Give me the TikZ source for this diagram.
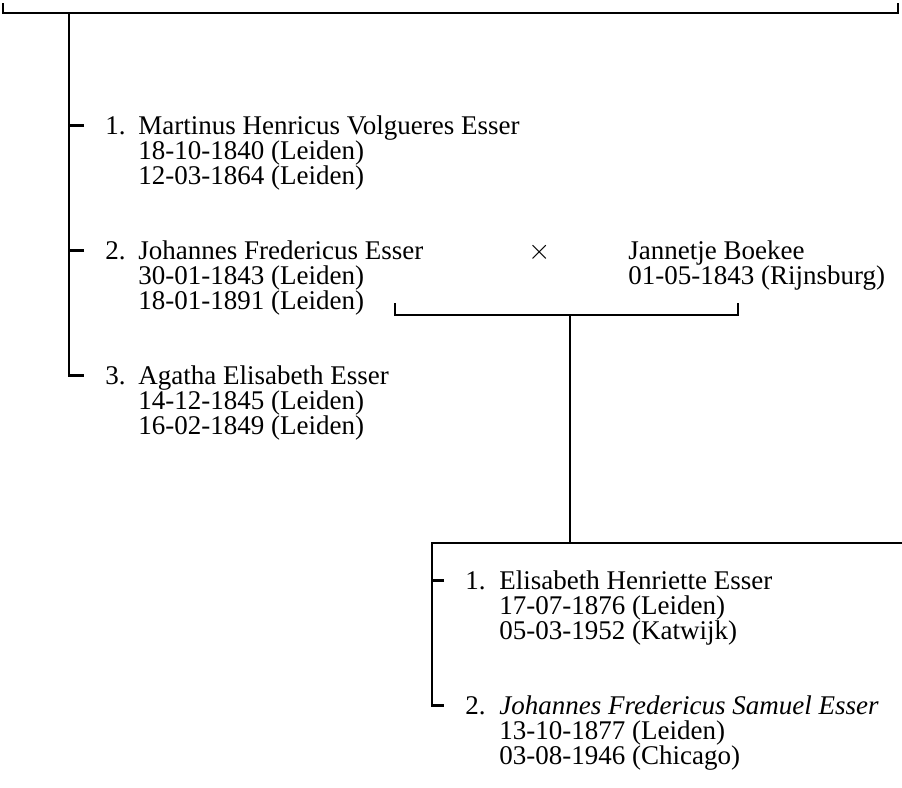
\documentclass[tikz,border=0pt]{standalone}
\usepackage{fontspec}
\setmainfont{Liberation Serif}
\usetikzlibrary{arrows,shapes}
\tikzstyle{nr}=[inner xsep=10.5pt,inner ysep=0pt,anchor=base west]
\tikzstyle{person}=[inner sep=0pt,anchor=base west,align=left]
\tikzstyle{edge} = [draw,line width=1.4pt,-]

\begin{document}
\begin{tikzpicture}[x=0.5pt,y=-0.5pt,font={\fontsize{13.5}{12.5}\selectfont}]
    \useasboundingbox (0,0) rectangle (902,788);
    % The line of the parents on top
    \coordinate (topL) at (3,3);
    \coordinate (topR) at (898,3);
    \coordinate (root) at (69,13);
    \path[edge] (topL) |- (root) -| (topR);

    % First we draw the numbers of the children
    \foreach \pos/\name/\nr in {{(84,134)/nr1/1.}, {(84,259)/nr2/2.}, {(84,384)/nr3/3.}, {(444,589)/nr4/1.}, {(444,714)/nr5/2.}}
        \node[nr] (\name) at \pos {\nr};

    % Then the names with birth and death (placed at their last line)
    \foreach \pos/\name/\txt in {{(138,184)/martinus/{Martinus Henricus Volgueres Esser\\18-10-1840 (Leiden)\\12-03-1864 (Leiden)}},
                                 {(138,309)/johannes/{Johannes Fredericus Esser\\30-01-1843 (Leiden)\\18-01-1891 (Leiden)}},
                                 {(138,434)/agatha/{Agatha Elisabeth Esser\\14-12-1845 (Leiden)\\16-02-1849 (Leiden)}},
                                 {(628,284)/jannetje/{Jannetje Boekee\\01-05-1843 (Rijnsburg)}},
                                 {(499,639)/elisabeth/{Elisabeth Henriette Esser\\17-07-1876 (Leiden)\\05-03-1952 (Katwijk)}},
                                 {(499,764)/samuel/{\textit{Johannes Fredericus Samuel Esser}\\13-10-1877 (Leiden)\\03-08-1946 (Chicago)}}}
        \node[person] (\name) at \pos {\txt};
    \node[inner sep=0pt,anchor=base] (marr) at (540,259) {$\times$};

    % Connect the children to the family line
    \path[edge] (root) |- (nr3.west);
    \foreach \n in {nr1, nr2}
        \path[edge] (\n.west) -- (\n.west -| root);

    % The marriage and its children
    \coordinate (wedL) at (395,303);
    \coordinate (wedR) at (738,303);
    \coordinate (wed) at (570,315);
    \coordinate (fam) at (570,543);
    \coordinate (famL) at (432,543);
    \coordinate (famR) at (902,543);
    \path[edge] (wedL) |- (wed) -| (wedR);
    \path[edge] (wed) -- (fam);
    \path[edge] (famR) -- (famL) |- (nr5.west);
    \path[edge] (nr4.west) -- (nr4.west -| famL);
\end{tikzpicture}
\end{document}
